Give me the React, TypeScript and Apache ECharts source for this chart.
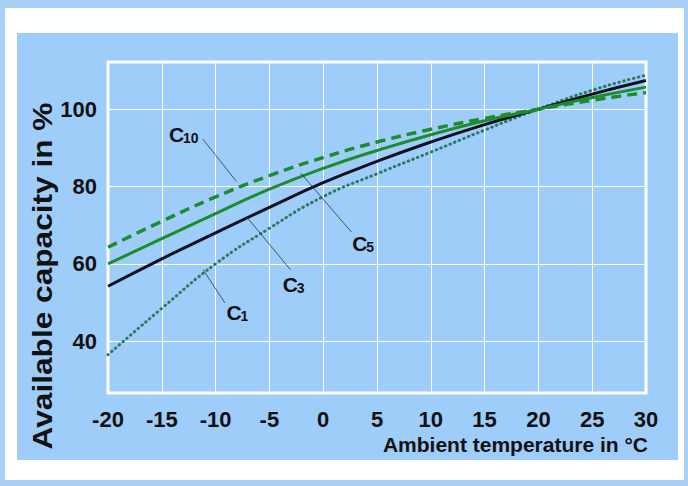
import React, { useEffect, useRef } from "react";
import * as echarts from "echarts";

// ---- data ----
const temps = [-20, -15, -10, -5, 0, 5, 10, 15, 20, 25, 30];
const c1 = [36.5, 48.5, 60.0, 69.2, 77.4, 83.3, 88.9, 94.6, 100, 104.9, 108.8];
const c3 = [54.2, 61.3, 68.0, 74.6, 81.0, 86.5, 91.5, 96.0, 100, 103.9, 107.4];
const c5 = [60.0, 66.5, 73.0, 79.3, 84.7, 89.3, 93.4, 97.0, 100, 103.0, 105.7];
const c10 = [64.3, 71.0, 77.3, 82.8, 87.5, 91.5, 94.8, 97.6, 100, 102.3, 104.3];
const yTicks = [40, 60, 80, 100];

// annotation labels (data coordinates)
const labelMain = ["C", "C", "C", "C"];
const labelSub = ["10", "5", "3", "1"];
const leaderFrom = [[-11.2, 92.3], [-2.1, 83.5], [-7.13, 72.2], [-11.16, 58.5]];
const leaderTo = [[-8.06, 81.3], [2.63, 68.2], [-3.05, 58.5], [-9.14, 49.9]];
const labelAt = [[-14.34, 95.4], [2.7, 67.1], [-3.77, 56.7], [-8.99, 49.4]];

const yTitle = "Available capacity in %";
const xTitle = "Ambient temperature in °C";

const SANS = "'Liberation Sans', Arial, sans-serif";

const pairs = (ys: number[]) => temps.map((t, i) => [t, ys[i]]);

export default function App() {
  const ref = useRef<HTMLDivElement>(null);
  useEffect(() => {
    if (!ref.current) return;
    const chart = echarts.init(ref.current, null, { renderer: "svg" });
    const option: any = {
      animation: false,
      backgroundColor: "transparent",
      grid: {
        left: 108,
        right: 42,
        top: 62,
        bottom: 93,
        show: true,
        backgroundColor: "#9fcdf9",
        borderColor: "#ffffff",
        borderWidth: 3,
      },
      xAxis: {
        type: "value",
        min: -20,
        max: 30,
        interval: 5,
        axisLine: { show: false },
        axisTick: { show: false },
        splitLine: { show: true, lineStyle: { color: "#ffffff", width: 1 } },
        axisLabel: {
          margin: 15,
          color: "#111111",
          fontSize: 22,
          fontWeight: "bold",
          fontFamily: SANS,
        },
      },
      yAxis: {
        type: "value",
        min: 26.6,
        max: 112.2,
        axisLine: { show: false },
        axisTick: { show: false, customValues: yTicks },
        splitLine: { show: true, lineStyle: { color: "#ffffff", width: 1 } },
        axisLabel: {
          customValues: yTicks,
          margin: 11,
          color: "#111111",
          fontSize: 22,
          fontWeight: "bold",
          fontFamily: SANS,
        },
      },
      series: [
        {
          name: "C1",
          type: "line",
          smooth: true,
          symbol: "none",
          data: pairs(c1),
          lineStyle: { color: "#2b7a5c", width: 3, type: [0.5, 4.5], cap: "round" },
          z: 2,
        },
        {
          name: "C3",
          type: "line",
          smooth: true,
          symbol: "none",
          data: pairs(c3),
          lineStyle: { color: "#111122", width: 3 },
          z: 3,
        },
        {
          name: "C5",
          type: "line",
          smooth: true,
          symbol: "none",
          data: pairs(c5),
          lineStyle: { color: "#1e8c2c", width: 3 },
          z: 4,
        },
        {
          name: "C10",
          type: "line",
          smooth: true,
          symbol: "none",
          data: pairs(c10),
          lineStyle: { color: "#1e8c2c", width: 3.5, type: [10, 6] },
          z: 5,
        },
      ],
    };
    chart.setOption(option);

    const toPx = (p: number[]) => chart.convertToPixel({ gridIndex: 0 }, p) as number[];
    const graphics: any[] = [];
    labelMain.forEach((m, i) => {
      const a = toPx(leaderFrom[i]);
      const b = toPx(leaderTo[i]);
      graphics.push({
        type: "line",
        shape: { x1: a[0], y1: a[1], x2: b[0], y2: b[1] },
        style: { stroke: "#2a3550", lineWidth: 0.8 },
        z: 10,
      });
      const t = toPx(labelAt[i]);
      graphics.push({
        type: "text",
        x: t[0],
        y: t[1] - 3,
        style: {
          text: m,
          fill: "#111111",
          font: `bold 21px ${SANS}`,
          align: "left",
          verticalAlign: "top",
        },
        z: 10,
      });
      graphics.push({
        type: "text",
        x: t[0] + 14,
        y: t[1] + 4,
        style: {
          text: labelSub[i],
          fill: "#111111",
          font: `bold 14px ${SANS}`,
          align: "left",
          verticalAlign: "top",
        },
        z: 10,
      });
    });
    graphics.push({
      type: "text",
      x: 42,
      y: 276,
      rotation: Math.PI / 2,
      scaleX: 1.13,
      style: {
        text: yTitle,
        fill: "#111111",
        font: `bold 28px ${SANS}`,
        align: "center",
        verticalAlign: "middle",
      },
      z: 10,
    });
    graphics.push({
      type: "text",
      x: 648,
      y: 444,
      style: {
        text: xTitle,
        fill: "#111111",
        font: `bold 21px ${SANS}`,
        align: "right",
        verticalAlign: "middle",
      },
      z: 10,
    });
    chart.setOption({ graphic: graphics });
    return () => chart.dispose();
  }, []);

  return (
    <div
      style={{
        position: "fixed",
        left: 0,
        top: 0,
        width: 688,
        height: 486,
        background: "#a9d1f6",
      }}
    >
      <div
        style={{
          position: "absolute",
          left: 5,
          top: 8,
          width: 679,
          height: 472,
          background: "#ffffff",
        }}
      />
      <div
        style={{
          position: "absolute",
          left: 17,
          top: 33,
          width: 661,
          height: 427,
          background: "#9fcdf9",
        }}
      />
      <div ref={ref} style={{ position: "absolute", left: 0, top: 0, width: 688, height: 486 }} />
    </div>
  );
}
